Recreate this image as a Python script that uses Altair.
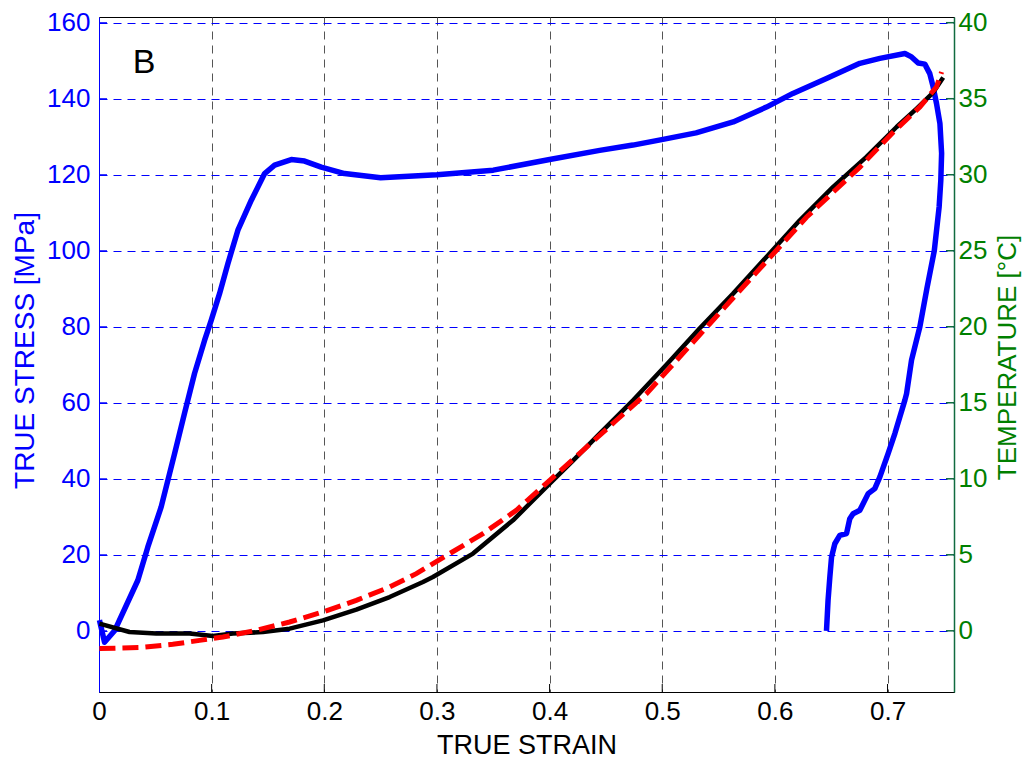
import altair as alt
import pandas as pd

# ---------------- data ----------------
blue_strain = [0.0004, 0.0049, 0.0138, 0.0345, 0.0433, 0.0552, 0.0671, 0.0759, 0.0848, 0.0937,
               0.0996, 0.107, 0.1144, 0.1233, 0.1352, 0.147, 0.1559, 0.1707, 0.1825, 0.1973,
               0.218, 0.25, 0.3, 0.35, 0.4, 0.4445, 0.474, 0.5007, 0.530, 0.563,
               0.5925, 0.616, 0.6458, 0.6754, 0.6932, 0.7154, 0.7213, 0.7272, 0.7331, 0.7375,
               0.7405, 0.7435, 0.7465, 0.7480, 0.7473, 0.7458, 0.7415, 0.7349, 0.7287, 0.7213,
               0.7169, 0.7154, 0.7065, 0.7005, 0.6932, 0.6887, 0.6828, 0.6754, 0.6694, 0.6665,
               0.6636, 0.6576, 0.6532, 0.6503, 0.6488, 0.6472, 0.6458]
blue_stress = [2.8, -3, 0, 13.3, 22, 32.6, 46.6, 57.2, 67.7, 76.4,
               81.7, 88.7, 96.6, 105.4, 113.3, 120.3, 122.5, 124, 123.6, 122,
               120.3, 119.2, 120, 121.2, 124, 126.4, 127.8, 129.3, 131, 133.9,
               137.8, 141.4, 145.3, 149.3, 150.6, 151.9, 151, 149.4, 149.1, 146.6,
               143.1, 138.7, 133.5, 125.6, 118.6, 111.5, 100, 90, 80, 71.2,
               62.4, 60.7, 51.9, 46.6, 40.5, 37.4, 36.1, 31.7, 30.8, 29.5,
               25.6, 25.1, 22.9, 19.4, 14.2, 8, 0]

black_strain = [0.0004, 0.0271, 0.0508, 0.0804, 0.1011, 0.1188, 0.1455, 0.1692, 0.1988, 0.2284,
                0.258, 0.2876, 0.2964, 0.332, 0.3675, 0.4001, 0.4208, 0.4445, 0.4741, 0.5037,
                0.5333, 0.5629, 0.5925, 0.6221, 0.6517, 0.6813, 0.708, 0.7258, 0.7405, 0.7494]
black_temp = [0.47, -0.08, -0.18, -0.18, -0.34, -0.18, -0.08, 0.14, 0.69, 1.39,
              2.22, 3.21, 3.54, 5.08, 7.27, 9.68, 11.2, 12.97, 15.16, 17.5,
              19.9, 22.18, 24.59, 27.0, 29.2, 31.17, 33.14, 34.35, 35.4, 36.4]

red_strain = [0.0004, 0.036, 0.0655, 0.0893, 0.11, 0.1396, 0.1692, 0.1988, 0.2284, 0.258,
              0.2817, 0.3113, 0.3408, 0.3705, 0.4001, 0.4297, 0.4593, 0.486, 0.5422, 0.628,
              0.6754, 0.705, 0.7287, 0.7435, 0.748]
red_temp = [-1.17, -1.1, -0.89, -0.63, -0.41, 0.03, 0.58, 1.24, 2.0, 2.88,
            3.76, 5.08, 6.39, 7.93, 9.9, 11.87, 13.85, 15.6, 20.2, 27.2,
            30.5, 32.8, 34.46, 35.78, 36.76]

strain_ticks = [0, 0.1, 0.2, 0.3, 0.4, 0.5, 0.6, 0.7]
stress_ticks = [0, 20, 40, 60, 80, 100, 120, 140, 160]
temp_ticks = [0, 5, 10, 15, 20, 25, 30, 35, 40]

panel_label = ["B"]
panel_label_strain = [0.03]
panel_label_stress = [146.7]

# ---------------- styling ----------------
W, H = 855, 675
FONT = "Liberation Sans"
BLUE = "#0000FF"
GREEN = "#008000"
GREEN_AXIS = "#106b40"

blue_df = pd.DataFrame({"strain": blue_strain, "stress": blue_stress, "i": list(range(len(blue_strain)))})
black_df = pd.DataFrame({"strain": black_strain, "temp": black_temp, "i": list(range(len(black_strain)))})
red_df = pd.DataFrame({"strain": red_strain, "temp": red_temp, "i": list(range(len(red_strain)))})
xt_df = pd.DataFrame({"strain": strain_ticks[1:]})
st_df = pd.DataFrame({"stress": stress_ticks})
tt_df = pd.DataFrame({"temp": temp_ticks})
lab_df = pd.DataFrame({"strain": panel_label_strain, "stress": panel_label_stress, "t": panel_label})

x_scale = alt.Scale(domain=[0, 0.759], nice=False, zero=False)
y_left = alt.Scale(domain=[-16.1, 161.5], nice=False, zero=False)
y_right = alt.Scale(domain=[-4.025, 40.375], nice=False, zero=False)

x_axis = alt.Axis(
    values=strain_ticks,
    labelExpr="datum.value == 0 ? '0' : format(datum.value, '.1f')",
    title="TRUE STRAIN",
    grid=True, gridColor="#555555", gridDash=[8, 6], gridWidth=1,
    domainColor="black", domainWidth=1,
    ticks=False, tickSize=0,
    labelColor="black", labelFont=FONT, labelFontSize=26, labelPadding=6,
    labelFlush=False, labelOverlap=False,
    titleFont=FONT, titleFontSize=27, titleFontWeight="normal", titleColor="black",
    titleBaseline="alphabetic", titleY=61,
)

left_axis = alt.Axis(
    values=stress_ticks, orient="left",
    title="TRUE STRESS [MPa]",
    grid=True, gridColor=BLUE, gridDash=[8, 6], gridWidth=1,
    domainColor=BLUE, domainWidth=1,
    ticks=False, tickSize=0,
    labelColor=BLUE, labelFont=FONT, labelFontSize=26, labelPadding=9,
    labelFlush=False, labelOverlap=False,
    titleFont=FONT, titleFontSize=28, titleFontWeight="normal", titleColor=BLUE,
    titleAngle=270, titleBaseline="alphabetic", titleAlign="center",
    titleX=-66, titleY=333,
)

right_axis = alt.Axis(
    values=temp_ticks, orient="right",
    title="TEMPERATURE [°C]",
    grid=False,
    domainColor=GREEN_AXIS, domainWidth=1.5,
    ticks=False, tickSize=0,
    labelColor=GREEN, labelFont=FONT, labelFontSize=26, labelPadding=4,
    labelFlush=False, labelOverlap=False,
    titleFont=FONT, titleFontSize=26, titleFontWeight="normal", titleColor=GREEN,
    titleAngle=270, titleBaseline="alphabetic", titleAlign="center",
    titleX=61, titleY=340,
)

X = alt.X("strain:Q", scale=x_scale, axis=x_axis)
YL = alt.Y("stress:Q", scale=y_left, axis=left_axis)
YR = alt.Y("temp:Q", scale=y_right, axis=right_axis)

blue_line = alt.Chart(blue_df).mark_line(color=BLUE, strokeWidth=5.5, strokeJoin="round").encode(
    x=X, y=YL, order="i:Q",
)

x_ticks = alt.Chart(xt_df).mark_rule(color="black", strokeWidth=1).encode(
    x=X, y=alt.value(H), y2=alt.value(H - 8),
)

left_ticks = alt.Chart(st_df).mark_rule(color=BLUE, strokeWidth=1).encode(
    y=YL, x=alt.value(0), x2=alt.value(8),
)

label = alt.Chart(lab_df).mark_text(
    font=FONT, fontSize=34, align="left", baseline="alphabetic", color="black"
).encode(
    x=X, y=YL, text="t:N",
)

left_group = alt.layer(blue_line, x_ticks, left_ticks, label)

black_line = alt.Chart(black_df).mark_line(color="black", strokeWidth=4.5, strokeJoin="round").encode(
    x=X, y=YR, order="i:Q",
)

red_line = alt.Chart(red_df).mark_line(color="#FF0000", strokeWidth=5, strokeDash=[16, 7]).encode(
    x=X, y=YR, order="i:Q",
)

right_ticks = alt.Chart(tt_df).mark_rule(color=GREEN_AXIS, strokeWidth=1.5).encode(
    y=YR, x=alt.value(W - 8), x2=alt.value(W),
)

right_group = alt.layer(black_line, red_line, right_ticks)

chart = alt.layer(left_group, right_group).resolve_scale(y="independent").properties(
    width=W, height=H,
    autosize=alt.AutoSizeParams(type="none"),
    padding={"left": 99, "top": 17, "right": 72, "bottom": 69},
    background="white",
).configure_view(stroke="black", strokeWidth=1)

chart.save("out.html", embed_options={"renderer": "svg", "actions": False})
